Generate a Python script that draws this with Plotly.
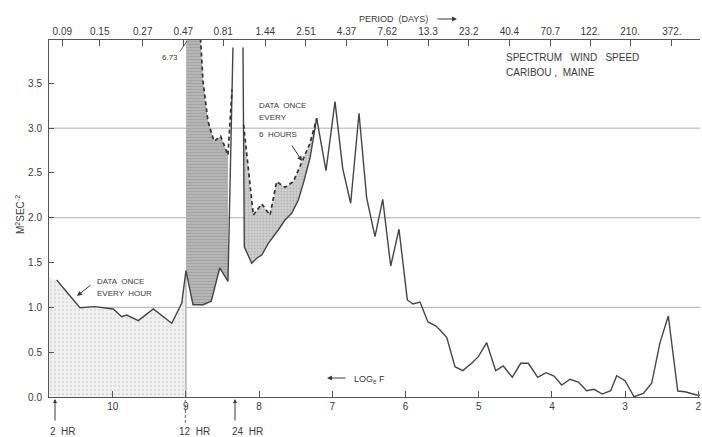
import math
import plotly.graph_objects as go

# ---------------- data (x = log_e F, y = spectral density, M^2 SEC^-2) ----------------
HOURLY_LNF = [10.765, 10.447, 10.242, 10.173, 9.992, 9.877, 9.809, 9.650, 9.445, 9.194, 9.057, 8.999]
HOURLY_VAL = [1.306, 0.997, 1.008, 1.001, 0.982, 0.896, 0.915, 0.852, 0.982, 0.823, 1.046, 1.41]
HOURLY_EDGE_VAL = 1.33   # stipple level at the left frame

LOW1_LNF = [8.999, 8.903, 8.766, 8.653, 8.538, 8.425]
LOW1_VAL = [1.41, 1.03, 1.03, 1.07, 1.44, 1.29]

DIURNAL_LNF = [8.425, 8.357, None, 8.220, 8.202]
DIURNAL_VAL = [1.29, 3.90, None, 3.90, 1.677]

LOW2_LNF = [8.202, 8.101, 8.033, 7.964, 7.874, 7.738, 7.646, 7.555, 7.464, 7.396, 7.305, 7.213]
LOW2_VAL = [1.677, 1.492, 1.548, 1.585, 1.715, 1.864, 1.975, 2.05, 2.199, 2.385, 2.664, 3.11]

TAIL_LNF = [7.213, 7.086, 6.963, 6.858, 6.749, 6.635, 6.530, 6.417, 6.311, 6.202,
            6.089, 5.975, 5.898, 5.802, 5.693, 5.583, 5.529, 5.437, 5.324, 5.219,
            5.096, 5.005, 4.891, 4.768, 4.664, 4.541, 4.426, 4.322, 4.194, 4.081,
            3.971, 3.866, 3.753, 3.639, 3.525, 3.425, 3.311, 3.197, 3.115, 3.001,
            2.878, 2.751, 2.637, 2.526, 2.410, 2.281, 2.182, 2.022, 1.96]
TAIL_VAL = [3.11, 2.526, 3.296, 2.552, 2.162, 3.166, 2.218, 1.789, 2.206, 1.462,
            1.872, 1.083, 1.038, 1.06, 0.837, 0.792, 0.748, 0.666, 0.338, 0.294,
            0.376, 0.45, 0.606, 0.294, 0.346, 0.22, 0.376, 0.376, 0.22, 0.271,
            0.234, 0.134, 0.198, 0.167, 0.07, 0.086, 0.033, 0.07, 0.238, 0.182,
            0.003, 0.041, 0.153, 0.599, 0.904, 0.067, 0.059, 0.022, 0.02]

SIXHR1_LNF = [8.995, 8.766, 8.698, 8.616, 8.525, 8.425, 8.37]
SIXHR1_VAL = [6.73, 3.523, 3.077, 2.854, 2.91, 2.70, 3.43]

SIXHR2_LNF = [8.212, 8.079, 7.964, 7.851, 7.760, 7.646, 7.533, 7.418, 7.305, 7.213]
SIXHR2_VAL = [3.04, 2.031, 2.154, 2.031, 2.403, 2.34, 2.403, 2.626, 2.831, 3.11]

PERIOD_DAYS = [0.09, 0.15, 0.27, 0.47, 0.81, 1.44, 2.51, 4.37, 7.62, 13.3, 23.2, 40.4, 70.7, 122, 210, 372]
PERIOD_LABELS = ["0.09", "0.15", "0.27", "0.47", "0.81", "1.44", "2.51", "4.37", "7.62",
                 "13.3", "23.2", "40.4", "70.7", "122.", "210.", "372."]
LNF_OFFSET = 8.28          # log_e F = LNF_OFFSET - log_e(period, days)
LNF_TICKS = [10, 9, 8, 7, 6, 5, 4, 3, 2]
Y_TICKS = [0.0, 0.5, 1.0, 1.5, 2.0, 2.5, 3.0, 3.5]
GRID_LEVELS = [1.0, 2.0, 3.0]
X_RANGE = [10.87, 1.977]
Y_RANGE = [0, 3.984]

# ---------------- figure ----------------
W, H = 702, 437
ML, MR, MT, MB = 49, 2, 40, 40
PW, PH = W - ML - MR, H - MT - MB
INK = "#3a3a3a"
FONT = "Liberation Sans, Arial, sans-serif"


def px(x):
    return (x - ML) / PW


def py(y):
    return (H - MB - y) / PH


fig = go.Figure()

# light stipple under hourly spectrum
light_x = [X_RANGE[0], X_RANGE[0]] + HOURLY_LNF + [HOURLY_LNF[-1]]
light_y = [0, HOURLY_EDGE_VAL] + HOURLY_VAL + [0]
fig.add_trace(go.Scatter(x=light_x, y=light_y, mode="lines", fill="toself",
                         fillcolor="#eeeeee", line=dict(width=0),
                         fillpattern=dict(shape=".", fgcolor="#c8c8c8", bgcolor="#f2f2f2",
                                          size=4, solidity=0.3),
                         hoverinfo="skip", showlegend=False))

# dark region between 6-hourly and hourly (semi-diurnal)
r1x = SIXHR1_LNF[:-1] + LOW1_LNF[::-1]
r1y = SIXHR1_VAL[:-1] + LOW1_VAL[::-1]
fig.add_trace(go.Scatter(x=r1x, y=r1y, mode="lines", fill="toself",
                         fillcolor="#a5a5a5", line=dict(width=0),
                         fillpattern=dict(shape="-", fgcolor="#8f8f8f", bgcolor="#b8b8b8",
                                          size=3, solidity=0.45),
                         hoverinfo="skip", showlegend=False))

# second shaded region
r2x = SIXHR2_LNF + LOW2_LNF[::-1]
r2y = SIXHR2_VAL + LOW2_VAL[::-1]
fig.add_trace(go.Scatter(x=r2x, y=r2y, mode="lines", fill="toself",
                         fillcolor="#c6c6c6", line=dict(width=0),
                         fillpattern=dict(shape=".", fgcolor="#9c9c9c", bgcolor="#d0d0d0",
                                          size=3, solidity=0.4),
                         hoverinfo="skip", showlegend=False))

# boundary of hourly stipple at 12 HR
fig.add_trace(go.Scatter(x=[HOURLY_LNF[-1], HOURLY_LNF[-1]], y=[0, HOURLY_VAL[-1]],
                         mode="lines", line=dict(color="#777", width=0.8),
                         hoverinfo="skip", showlegend=False))

# solid spectrum
solid_x = HOURLY_LNF + LOW1_LNF[1:] + DIURNAL_LNF[1:] + LOW2_LNF[1:] + TAIL_LNF[1:]
solid_y = HOURLY_VAL + LOW1_VAL[1:] + DIURNAL_VAL[1:] + LOW2_VAL[1:] + TAIL_VAL[1:]
fig.add_trace(go.Scatter(x=solid_x, y=solid_y, mode="lines", connectgaps=False,
                         line=dict(color="#454545", width=1.4),
                         hoverinfo="skip", showlegend=False))

# dashed 6-hourly spectrum
for dx, dy in ((SIXHR1_LNF, SIXHR1_VAL), (SIXHR2_LNF, SIXHR2_VAL)):
    fig.add_trace(go.Scatter(x=dx, y=dy, mode="lines",
                             line=dict(color="#333", width=1.7, dash="4px,3px"),
                             hoverinfo="skip", showlegend=False))

# grid lines
shapes = []
for g in GRID_LEVELS:
    shapes.append(dict(type="line", xref="paper", yref="y", x0=0, x1=1, y0=g, y1=g,
                       line=dict(color="#9a9a9a", width=0.8), layer="below"))
# 12 HR dashed marker below axis
shapes.append(dict(type="line", xref="paper", yref="paper", x0=px(185.3), x1=px(185.3),
                   y0=py(400), y1=py(423), line=dict(color="#666", width=1, dash="3px,2px")))

ann = []


def txt(s, x, y, size=9, xanchor="left", **kw):
    ann.append(dict(text=s, x=px(x), y=py(y), xref="paper", yref="paper", showarrow=False,
                    xanchor=xanchor, yanchor="middle", borderpad=0,
                    font=dict(family=FONT, size=size, color=INK), **kw))


def arrow(hx, hy, tx, ty, head=2, width=1.0, size=1.0):
    ann.append(dict(text="", x=px(hx), y=py(hy), xref="paper", yref="paper",
                    ax=tx - hx, ay=ty - hy, axref="pixel", ayref="pixel", showarrow=True,
                    arrowhead=head, arrowsize=size, arrowwidth=width, arrowcolor=INK))


txt("PERIOD  (DAYS)", 393, 19, size=9, xanchor="center")
arrow(457, 19, 436, 19)
txt("SPECTRUM   WIND   SPEED", 505, 57, size=10)
txt("CARIBOU ,  MAINE", 505, 72, size=10)
txt("DATA  ONCE", 96, 281, size=8)
txt("EVERY  HOUR", 96, 293, size=8)
arrow(77, 296, 92, 284)
txt("DATA  ONCE", 258, 105, size=8)
txt("EVERY", 258, 117, size=8)
txt("6  HOURS", 258, 134, size=8)
arrow(302, 161, 291, 144)
txt("6.73", 170, 57, size=8, xanchor="center")
arrow(187, 41, 179, 53, head=0, width=0.8)
arrow(327, 378, 347, 378)
txt("LOG<sub>e</sub> F", 353, 379, size=9)
txt("2  HR", 63, 431, size=10, xanchor="center")
txt("12  HR", 194, 431, size=10, xanchor="center")
txt("24  HR", 247, 431, size=10, xanchor="center")
arrow(55, 399, 55, 422, size=0.8)
arrow(235, 399, 235, 422, size=0.8)
ann.append(dict(text="M<sup>2</sup>SEC<sup>-2</sup>", x=px(12), y=py(215), xref="paper",
                yref="paper", showarrow=False, textangle=-90,
                font=dict(family=FONT, size=10, color=INK)))

top_ticks = [LNF_OFFSET - math.log(p) for p in PERIOD_DAYS]

fig.update_layout(
    width=W, height=H,
    margin=dict(l=ML, r=MR, t=MT, b=MB),
    paper_bgcolor="white", plot_bgcolor="white",
    showlegend=False,
    shapes=shapes, annotations=ann,
    font=dict(family=FONT, size=10, color=INK),
    xaxis=dict(range=X_RANGE, tickvals=LNF_TICKS, ticktext=[str(t) for t in LNF_TICKS],
               ticks="inside", ticklen=6, tickcolor="#555", showline=True,
               linecolor="#555", linewidth=1, showgrid=False, zeroline=False,
               automargin=False, ticklabeloverflow="allow",
               tickfont=dict(size=10, color=INK)),
    xaxis2=dict(range=X_RANGE, overlaying="x", side="top", anchor="y",
                tickvals=top_ticks, ticktext=PERIOD_LABELS, ticks="inside", ticklen=6,
                tickcolor="#555", showline=True, linecolor="#555", linewidth=1,
                showgrid=False, zeroline=False, automargin=False,
                ticklabeloverflow="allow", tickfont=dict(size=10, color=INK)),
    yaxis=dict(range=Y_RANGE, tickvals=Y_TICKS, ticktext=[f"{v:.1f}" for v in Y_TICKS],
               ticks="inside", ticklen=5, tickcolor="#555", showline=True,
               linecolor="#555", linewidth=1, showgrid=False, zeroline=False,
               automargin=False, ticklabelstandoff=4, tickfont=dict(size=10, color=INK)),
)
# dummy trace to activate top axis
fig.add_trace(go.Scatter(x=[X_RANGE[0]], y=[None], xaxis="x2", mode="lines",
                         hoverinfo="skip", showlegend=False))

fig.write_html("out.html", config={"displayModeBar": False},
               post_script="document.body.style.margin='0';document.body.style.overflow='hidden';")
